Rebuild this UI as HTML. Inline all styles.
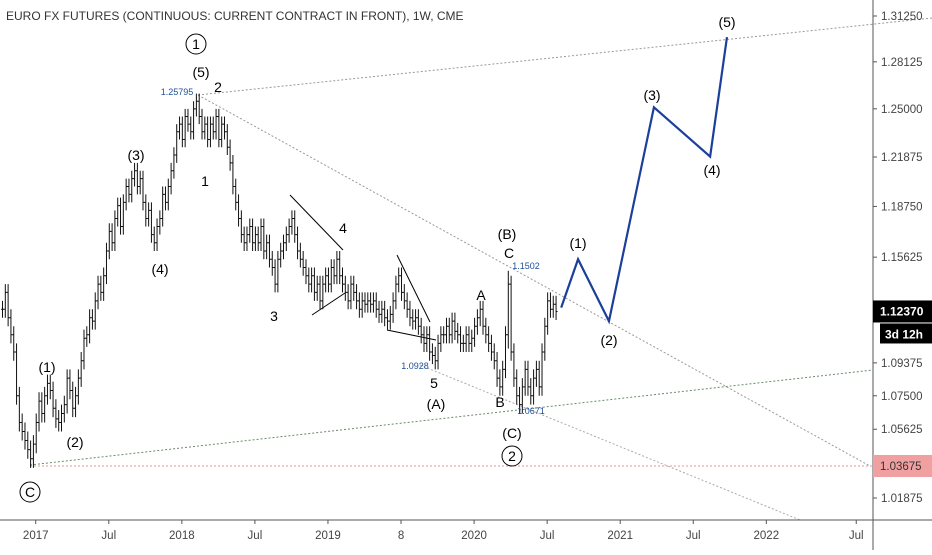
<!DOCTYPE html>
<html><head><meta charset="utf-8"><style>
html,body{margin:0;padding:0;background:#fff;}
body{width:932px;height:550px;overflow:hidden;font-family:"Liberation Sans",sans-serif;}
</style></head><body>
<svg id="chart" width="932" height="550" xmlns="http://www.w3.org/2000/svg" font-family="Liberation Sans, sans-serif">
<text x="6" y="20" font-size="12" fill="#333">EURO FX FUTURES (CONTINUOUS: CURRENT CONTRACT IN FRONT), 1W, CME</text>
<g id="lines"></g><g id="bars"></g><g id="labels"></g><g id="axes"></g>
</svg>
<script>
const closes=[1.125,1.135,1.12,1.11,1.10, 1.075,1.06,1.055,1.05,1.045, 1.04,1.048,1.06,1.072,1.065, 1.075,1.082,1.078,1.068,1.062,
1.06,1.065,1.07,1.085,1.078, 1.068,1.075,1.085,1.095,1.108, 1.11,1.12,1.118,1.13,1.14, 1.135,1.145,1.16,1.172,1.165,
1.18,1.188,1.175,1.19,1.20, 1.195,1.205,1.21,1.20,1.205, 1.19,1.18,1.185,1.17,1.165, 1.175,1.18,1.195,1.19,1.20,
1.21,1.22,1.235,1.24,1.23, 1.245,1.24,1.235,1.25,1.255, 1.245,1.235,1.24,1.23,1.24, 1.235,1.245,1.23,1.24,1.235,
1.225,1.215,1.2,1.19,1.18, 1.17,1.165,1.17,1.175,1.165, 1.17,1.165,1.175,1.16,1.165, 1.155,1.15,1.14,1.155,1.16,
1.165,1.17,1.175,1.18,1.17, 1.16,1.155,1.15,1.145,1.14, 1.145,1.135,1.14,1.13,1.14, 1.145,1.14,1.15,1.145,1.155,
1.145,1.14,1.135,1.13,1.14, 1.135,1.13,1.125,1.13,1.128, 1.13,1.128,1.13,1.125,1.122, 1.125,1.12,1.118,1.122,1.13,
1.14,1.145,1.135,1.13,1.125, 1.12,1.118,1.12,1.115,1.11, 1.105,1.11,1.10,1.098,1.095, 1.105,1.11,1.11,1.115,1.11,
1.118,1.112,1.11,1.105,1.105, 1.11,1.105,1.108,1.115,1.12, 1.125,1.115,1.11,1.105,1.10, 1.095,1.085,1.08,1.09,1.11,
1.14,1.10,1.085,1.075,1.07, 1.08,1.09,1.08,1.075,1.085, 1.09,1.08,1.10,1.115,1.13, 1.125,1.128,1.1237];
const forecastWeeks=[199,205,216,232,252,258];
const forecastPrices=[1.126,1.155,1.118,1.251,1.219,1.298];
const yTicks=[1.3125,1.28125,1.25,1.21875,1.1875,1.15625,1.09375,1.075,1.05625,1.01875];
const xTickLabels=["2017","Jul","2018","Jul","2019","8","2020","Jul","2021","Jul","2022","Jul"];
const xTickWeeks=[12,38,64,90,116,142,168,194,220,246,272,304];
const NS="http://www.w3.org/2000/svg";
function y(v){return 16+(Math.log(1.3125)-Math.log(v))*1902.5;}
function x(i){return 2+i*2.81;}
function el(t,a,p){const e=document.createElementNS(NS,t);for(const k in a)e.setAttribute(k,a[k]);document.getElementById(p).appendChild(e);return e;}
const L=[[198,95,932,18,"#999","2,2"],[198,95,870,466,"#999","2,2"],[420,365,800,520,"#aaa","2,2"],[30,465,873,370,"#6a8a6a","2,2"],[30,466,873,466,"#e59a9a","2,2"],
[290,195,343,250,"#000",""],[312,315,345,293,"#000",""],[397,255,430,322,"#000",""],[387,330,436,340,"#000",""]];
L.forEach(l=>{const e=el("line",{x1:l[0],y1:l[1],x2:l[2],y2:l[3],stroke:l[4],"stroke-width":1,"stroke-dasharray":l[5]},"lines");

});
for(let i=0;i<closes.length;i++){const o=i?closes[i-1]:closes[i],c=closes[i];const w=(i==180)?0.008:0.005;
const h=Math.max(o,c)+w,l=Math.min(o,c)-w,X=x(i)+0.5;
const g=el("path",{d:`M${X} ${y(h)}V${y(l)}M${X-1.5} ${y(o)}H${X}M${X} ${y(c)}H${X+1.5}`,stroke:"#111","stroke-width":1,fill:"none"},"bars");

}
let d="";forecastWeeks.forEach((w,k)=>{d+=(k?"L":"M")+x(w)+" "+y(forecastPrices[k]);});
const f=el("path",{d:d,stroke:"#1c3f9b","stroke-width":2.2,fill:"none","stroke-linejoin":"miter"},"lines");


const T=[["(5)",201,77,14],["2",218,92,14],["(3)",136,160,14],["1",205,186,14],["(4)",160,274,14],["4",343,233,14],["3",274,321,14],
["(1)",47,372,14],["(2)",75,447,14],["5",434,388,14],["(A)",436,409,14],["(B)",507,239,14],["C",509,258,14],["A",481,300,14],["B",500,407,14],["(C)",512,438,14],
["(1)",578,248,14],["(2)",609,345,14],["(3)",652,100,14],["(4)",712,175,14],["(5)",727,27,14]];
T.forEach(t=>{const e=el("text",{x:t[1],y:t[2],"font-size":t[3],"text-anchor":"middle",fill:"#000"},"labels");e.textContent=t[0];

});
[["1.25795",177,95],["1.0928",415,369],["1.1502",526,269],["1.0671",531,414]].forEach(t=>{const e=el("text",{x:t[1],y:t[2],"font-size":9,"text-anchor":"middle",fill:"#1c4f9b"},"labels");e.textContent=t[0];

});
[["1",196,44],["C",30,492],["2",512,456]].forEach(t=>{const c=el("circle",{cx:t[1],cy:t[2],r:10,fill:"none",stroke:"#000","stroke-width":1},"labels");


const e=el("text",{x:t[1],y:t[2]+5,"font-size":14,"text-anchor":"middle",fill:"#000"},"labels");e.textContent=t[0];

});
const ax=el("line",{x1:873,y1:0,x2:873,y2:550,stroke:"#555","stroke-width":1},"axes");


const bx=el("line",{x1:0,y1:520,x2:932,y2:520,stroke:"#555","stroke-width":1},"axes");


yTicks.forEach(v=>{const Y=y(v);el("line",{x1:873,y1:Y,x2:877,y2:Y,stroke:"#555"},"axes");
const e=el("text",{x:881,y:Y+4,"font-size":11.5,fill:"#444"},"axes");e.textContent=v.toFixed(5);

});
xTickLabels.forEach((s,k)=>{const X=x(xTickWeeks[k]);el("line",{x1:X,y1:520,x2:X,y2:524,stroke:"#555"},"axes");
const e=el("text",{x:X,y:539,"font-size":11.5,"text-anchor":"middle",fill:"#444"},"axes");e.textContent=s;

});
const lastY=y(closes[closes.length-1]);
const r1=el("rect",{x:873,y:lastY-11,width:59,height:22,fill:"#000"},"axes");


const t1=el("text",{x:880,y:lastY+4,"font-size":12,"font-weight":"bold",fill:"#fff"},"axes");t1.textContent="1.12370";


const r2=el("rect",{x:880,y:lastY+12,width:52,height:20,fill:"#000"},"axes");


const t2=el("text",{x:885,y:lastY+27,"font-size":12,"font-weight":"bold",fill:"#fff"},"axes");t2.textContent="3d 12h";


const r3=el("rect",{x:873,y:455,width:59,height:22,fill:"#f0a0a0"},"axes");


const t3=el("text",{x:880,y:470,"font-size":11.5,fill:"#333"},"axes");t3.textContent="1.03675";


</script>
</body></html>
